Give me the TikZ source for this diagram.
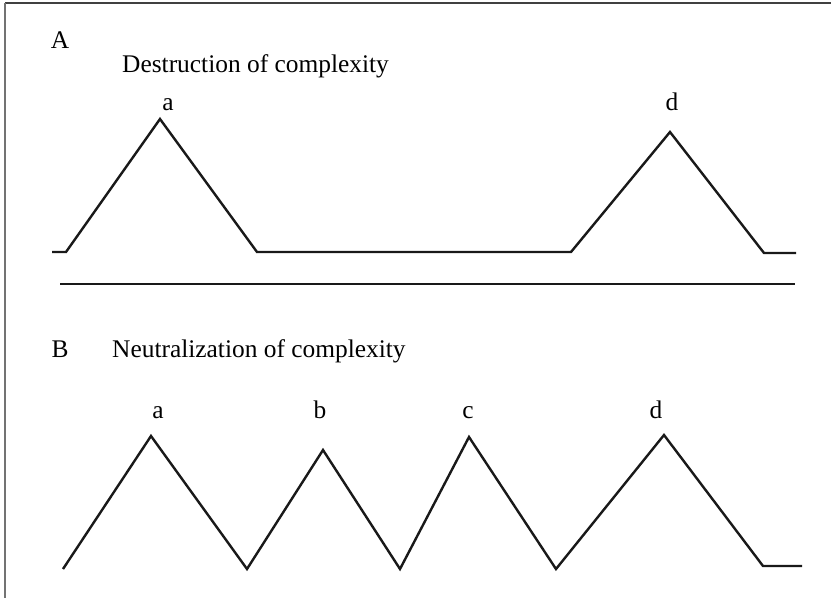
\documentclass[tikz,border=0pt]{standalone}
\usepackage{fontspec}
\setmainfont{Liberation Serif}
\usetikzlibrary{positioning}
\tikzset{
    % lines
    curve/.style={line width=2.4pt, draw=black!90, line join=miter},
    rule/.style={line width=2.4pt, draw=black!90},
    frameline/.style={line width=2pt, draw=black!75},
    % texts
    lbl/.style={anchor=base, inner sep=0pt, font=\fontsize{25.4}{30}\selectfont},
    title/.style={anchor=base west, inner sep=0pt, font=\fontsize{25.4}{30}\selectfont}
}
\begin{document}
\begin{tikzpicture}[x=1pt, y=-1pt]
    \useasboundingbox (0,0) rectangle (831,598);

    % frame
    \draw[frameline] (5,3) -- (831,3);
    \draw[frameline, draw=black!55] (5,3) -- (5,598);

    % Panel A
    \node[lbl] (labA) at (60,48) {A};
    \node[title] (titleA) at (122,72) {Destruction of complexity};
    \coordinate (pa) at (160,119);
    \coordinate (pd) at (670,132);
    \draw[curve] (52,252) -- (66,252) -- (pa) -- (257,252) -- (571,252) -- (pd) -- (764,253) -- (796,253);
    \node[lbl] (topa) at (168,110) {a};
    \node[lbl] (topd) at (672,110) {d};

    % separator
    \draw[rule] (60,284) -- (795,284);

    % Panel B
    \node[lbl] (labB) at (60,357) {B};
    \node[title] (titleB) at (112,357) {Neutralization of complexity};
    \coordinate (qa) at (151,436);
    \coordinate (qb) at (323,450);
    \coordinate (qc) at (469,437);
    \coordinate (qd) at (664,435);
    \draw[curve] (63,569) -- (qa) -- (247,569) -- (qb) -- (400,569) -- (qc) -- (556,569) -- (qd) -- (763,566) -- (802,566);
    \node[lbl] (peaka) at (158,418) {a};
    \node[lbl] (peakb) at (320,418) {b};
    \node[lbl] (peakc) at (468,418) {c};
    \node[lbl] (peakd) at (656,418) {d};
\end{tikzpicture}
\end{document}
